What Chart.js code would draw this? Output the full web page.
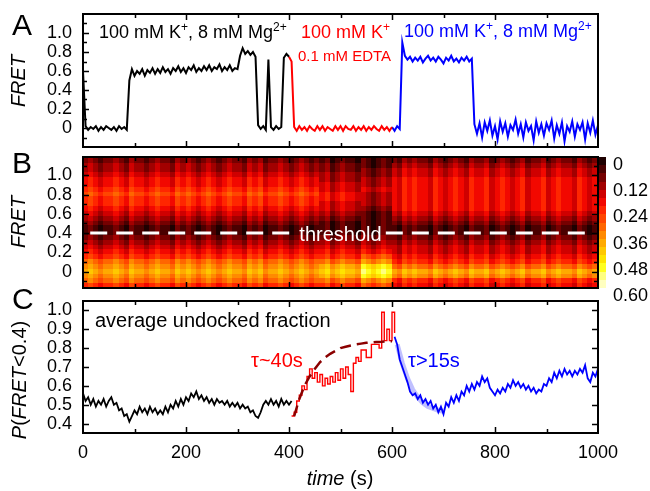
<!DOCTYPE html>
<html>
<head>
<meta charset="utf-8">
<script src="https://cdn.jsdelivr.net/npm/chart.js@4.4.1/dist/chart.umd.min.js"></script>
<style>
  html, body { margin: 0; padding: 0; background: #fff; }
  #wrap { position: relative; width: 650px; height: 491px; overflow: hidden; }
  #wrap canvas { position: absolute; left: 0; }
</style>
</head>
<body>
<div id="wrap">
  <canvas id="cA" width="650" height="160" style="top:0;width:650px;height:160px"></canvas>
  <canvas id="cB" width="650" height="160" style="top:150px;width:650px;height:160px"></canvas>
  <canvas id="cC" width="650" height="211" style="top:280px;width:650px;height:211px"></canvas>
</div>
<script>
const FONT = "'Liberation Sans', Arial, Helvetica, sans-serif";

// ─── DATA ─────────────────────────────────────────────────────────────
const step = 5; // s between samples of the traces

// A: single molecule FRET trace
const fretBlackA = [0.60, 0.02, -0.02, 0.01, -0.01, 0.02, -0.03, 0.01, -0.02, 0.02, 0.00, -0.02, 0.01, -0.03, 0.02, -0.01, 0.01, -0.02,
  0.50, 0.62, 0.55, 0.60, 0.57, 0.62, 0.55, 0.61, 0.58, 0.63,
  0.57, 0.62, 0.58, 0.64, 0.59, 0.62, 0.57, 0.63, 0.60, 0.65,
  0.59, 0.63, 0.58, 0.64, 0.61, 0.66, 0.59, 0.63, 0.60, 0.65,
  0.61, 0.66, 0.60, 0.64, 0.62, 0.67, 0.60, 0.64, 0.61, 0.66,
  0.60, 0.63, 0.62, 0.76, 0.84, 0.78, 0.81, 0.77, 0.80, 0.75,
  0.03, -0.01, 0.02, -0.02, 0.72, 0.01, -0.02, 0.02, -0.01, 0.01,
  0.74, 0.78, 0.75];                                   // 0-400 s
const fretRedA = [0.75, 0.70, 0.01, -0.03, 0.02, -0.02, 0.01, -0.03, 0.02, -0.01,
  -0.03, 0.02, -0.02, 0.02, -0.03, 0.01, -0.01, -0.03, 0.02, -0.02,
  0.02, -0.03, 0.02, -0.01, -0.02, 0.02, -0.03, 0.01, -0.02, 0.02,
  -0.03, 0.01, -0.02, 0.02, -0.01, -0.03, 0.02, -0.02, 0.01, -0.03,
  0.01];                                               // 400-600 s
const fretBlueA = [0.01, -0.03, 0.02, -0.01, 0.90, 0.76, 0.72, 0.75, 0.70, 0.74,
  0.71, 0.75, 0.69, 0.73, 0.76, 0.71, 0.74, 0.70, 0.75, 0.72,
  0.68, 0.74, 0.71, 0.76, 0.70, 0.73, 0.69, 0.74, 0.71, 0.75,
  0.70, 0.73, 0.04, -0.06, 0.05, -0.10, 0.06, -0.03, 0.08, -0.08,
  0.02, -0.12, 0.07, -0.04, 0.05, -0.09, 0.03, -0.02, 0.09, -0.06,
  0.04, -0.10, 0.06, -0.03, 0.02, -0.13, 0.07, -0.05, 0.04, -0.08,
  0.05, -0.02, 0.08, -0.11, 0.03, -0.06, 0.06, -0.14, 0.02, -0.04,
  0.07, -0.09, 0.04, -0.02, 0.06, -0.12, 0.05, -0.05, 0.08, -0.07,
  0.03];                                               // 600-1000 s

// C: average undocked fraction
const undockBlack = [0.56, 0.52, 0.54, 0.50, 0.53, 0.49, 0.52, 0.50, 0.53, 0.49,
  0.52, 0.54, 0.50, 0.51, 0.47, 0.48, 0.44, 0.45, 0.41, 0.44,
  0.47, 0.45, 0.49, 0.46, 0.48, 0.45, 0.49, 0.46, 0.48, 0.45,
  0.47, 0.45, 0.49, 0.46, 0.50, 0.48, 0.52, 0.49, 0.53, 0.50,
  0.54, 0.52, 0.56, 0.54, 0.57, 0.53, 0.55, 0.52, 0.54, 0.51,
  0.53, 0.50, 0.53, 0.51, 0.52, 0.50, 0.52, 0.49, 0.51, 0.49,
  0.51, 0.48, 0.50, 0.48, 0.49, 0.46, 0.47, 0.44, 0.43, 0.46,
  0.50, 0.52, 0.50, 0.53, 0.50, 0.52, 0.49, 0.53, 0.50, 0.52,
  0.50, 0.52];                                         // 0-405 s
const undockRed = [0.44, 0.46, 0.52, 0.55, 0.60, 0.58, 0.65, 0.69, 0.64, 0.67,
  0.62, 0.66, 0.60, 0.64, 0.61, 0.65, 0.62, 0.67, 0.63, 0.69,
  0.64, 0.70, 0.66, 0.57, 0.72, 0.75, 0.73, 0.79, 0.79, 0.75,
  0.75, 0.82, 0.82, 0.82, 0.80, 0.99, 0.84, 0.90, 0.84, 0.99,
  0.88];                                               // 405-605 s
const undockBlue = [0.86, 0.82, 0.74, 0.70, 0.66, 0.62, 0.57, 0.55, 0.56, 0.53,
  0.55, 0.51, 0.53, 0.50, 0.52, 0.48, 0.50, 0.46, 0.49, 0.45,
  0.51, 0.49, 0.54, 0.51, 0.55, 0.52, 0.57, 0.55, 0.60, 0.57,
  0.61, 0.58, 0.62, 0.60, 0.65, 0.62, 0.64, 0.59, 0.57, 0.55,
  0.58, 0.56, 0.59, 0.57, 0.61, 0.59, 0.63, 0.60, 0.62, 0.59,
  0.61, 0.58, 0.60, 0.57, 0.59, 0.56, 0.58, 0.57, 0.61, 0.60,
  0.64, 0.62, 0.67, 0.64, 0.68, 0.65, 0.69, 0.66, 0.68, 0.65,
  0.68, 0.66, 0.69, 0.67, 0.71, 0.64, 0.62, 0.67, 0.65, 0.69]; // 605-1000 s
const fitRed = [0.44, 0.53, 0.60, 0.65, 0.69, 0.725, 0.75, 0.77, 0.785, 0.80,
  0.807, 0.814, 0.82, 0.824, 0.828, 0.83, 0.833, 0.834, 0.836, 0.837]; // 410-600 s, every 10 s
const fitBlue = [0.82, 0.72, 0.64, 0.58, 0.54, 0.51, 0.49, 0.48, 0.47, 0.465]; // 610-700 s, every 10 s

// B: FRET histogram vs time, one hex digit per 10 s column (0 = 0 .. f = 0.60)
const heatColWidth = 10;
const heatBin = 0.05;
const heatFret = [1.2, 1.15, 1.1, 1.05, 1.0, 0.95, 0.9, 0.85, 0.8, 0.75, 0.7, 0.65, 0.6, 0.55,
  0.5, 0.45, 0.4, 0.35, 0.3, 0.25, 0.2, 0.15, 0.1, 0.05, 0, -0.05, -0.1, -0.15];
const heatRows = [
  '12101121021 10121102121 01210121102 12011210121 01  12012110 210121  2132322132 1232132231 2321231223 1232213212',
  '23212232132 21232213232 12321232213 23122321232 12  12012110 210121  2132322132 1232132231 2321231223 1232213212',
  '34323343243 32343324343 23432343324 34233432343 23  23123221 210121  3243433243 2343243342 3432342334 2343324323',
  '34323343243 32343324343 23432343324 34233432343 23  23123221 321232  4354544354 3454354453 4543453445 3454435434',
  '45434454354 43454435454 34543454435 45344543454 34  34234332 321232  4354544354 3454354453 4543453445 3454435434',
  '56545565465 54565546565 45654565546 56455654565 45  34234332 432343  5465655465 4565465564 5654564556 4565546545',
  '56545565465 54565546565 45654565546 56455654565 45  45345443 432343  5465655465 4565465564 5654564556 4565546545',
  '67656676576 65676657676 56765676657 67566765676 56  45345443 543454  5465655465 4565465564 5654564556 4565546545',
  '78767787687 76787768787 67876787768 78677876787 67  56456554 432343  5465655465 4565465564 5654564556 4565546545',
  '67656676576 65676657676 56765676657 67566765676 56  56456554 432343  5465655465 4565465564 5654564556 4565546545',
  '67656676576 65676657676 56765676657 67566765676 56  45345443 432343  5465655465 4565465564 5654564556 4565546545',
  '56545565465 54565546565 45654565546 56455654565 45  45345443 321232  5465655465 4565465564 5654564556 4565546545',
  '45434454354 43454435454 34543454435 45344543454 34  34234332 210121  4354544354 3454354453 4543453445 3454435434',
  '34323343243 32343324343 23432343324 34233432343 23  23123221 210121  3243433243 2343243342 3432342334 2343324323',
  '23212232132 21232213232 12321232213 23122321232 12  12012110 210121  2132322132 1232132231 2321231223 1232213212',
  '12101121021 10121102121 01210121102 12011210121 01  12012110 210121  1021211021 0121021120 1210120112 0121102101',
  '12101121021 10121102121 01210121102 12011210121 01  12012110 210121  1021211021 0121021120 1210120112 0121102101',
  '23212232132 21232213232 12321232213 23122321232 12  23123221 321232  2132322132 1232132231 2321231223 1232213212',
  '34323343243 32343324343 23432343324 34233432343 23  34234332 432343  3243433243 2343243342 3432342334 2343324323',
  '45434454354 43454435454 34543454435 45344543454 34  45345443 543454  4354544354 3454354453 4543453445 3454435434',
  '56545565465 54565546565 45654565546 56455654565 45  56456554 654565  4354544354 3454354453 4543453445 3454435434',
  '67656676576 65676657676 56765676657 67566765676 56  67567665 876787  5465655465 4565465564 5654564556 4565546545',
  '89878898798 87898879898 78987898879 89788987898 78  89789887 a989a9  6576766576 5676576675 6765675667 5676657656',
  '9a9899a98a9 989a998a9a9 89a989a998a 9a899a989a9 89  ab9abaa9 dcbcdc  8798988798 7898798897 8987897889 7898879878',
  'aba9aaba9ba a9abaa9baba 9aba9abaa9b ab9aaba9aba 9a  bcabcbba edcded  a9babaa9ba 9aba9baab9 aba9ab9aab 9abaa9ba9a',
  '9a9899a98a9 989a998a9a9 89a989a998a 9a899a989a9 89  ab9abaa9 dcbcdc  98a9a998a9 89a98a99a8 9a989a899a 89a998a989',
  '89878898798 87898879898 78987898879 89788987898 78  89789887 a989a9  6576766576 5676576675 6765675667 5676657656',
  '67656676576 65676657676 56765676657 67566765676 56  67567665 876787  5465655465 4565465564 5654564556 4565546545',
];
const heatPalette = ['#1e0000', '#4a0000', '#760000', '#a20000', '#cf0000', '#f20800', '#ff2600', '#ff4600',
  '#ff6600', '#ff8a00', '#ffaa00', '#ffc800', '#ffe400', '#ffff20', '#ffff80', '#ffffc0'];
const threshold = 0.4;
const thresholdLeft = [14, 412];
const thresholdRight = [588, 985];

const fretTicks = [0, 0.2, 0.4, 0.6, 0.8, 1.0];
const undockTicks = [0.4, 0.5, 0.6, 0.7, 0.8, 0.9, 1.0];
const timeTicks = [0, 200, 400, 600, 800, 1000];
const colorTicks = [0, 0.12, 0.24, 0.36, 0.48, 0.60];

// ─── HELPERS ──────────────────────────────────────────────────────────
const pts = (start, dt, vals) => vals.map((y, i) => ({ x: start + i * dt, y }));

function line(data, color, width, extra = {}) {
  return Object.assign({ data, borderColor: color, borderWidth: width, pointRadius: 0, fill: false, tension: 0 }, extra);
}

function drawRich(ctx, x, y, parts, color, align) {
  const fontOf = p => `${p.i ? 'italic ' : ''}${p.s}px ${FONT}`;
  let w = 0;
  parts.forEach(p => { ctx.font = fontOf(p); w += ctx.measureText(p.t).width; });
  let cx = align === 'center' ? x - w / 2 : x;
  ctx.fillStyle = color;
  ctx.textAlign = 'left';
  ctx.textBaseline = 'alphabetic';
  parts.forEach(p => {
    ctx.font = fontOf(p);
    ctx.fillText(p.t, cx, y - (p.r || 0));
    cx += ctx.measureText(p.t).width;
  });
}

function drawVertical(ctx, x, y, parts) {
  ctx.save();
  ctx.translate(x, y);
  ctx.rotate(-Math.PI / 2);
  drawRich(ctx, 0, 0, parts, '#000', 'center');
  ctx.restore();
}

// frame + inward ticks on every side
function framePlugin(spec) {
  return {
    id: 'frame',
    afterDatasetsDraw(chart) {
      const { ctx, chartArea: a, scales } = chart;
      ctx.save();
      ctx.strokeStyle = '#000';
      ctx.lineWidth = 1.5;
      ctx.beginPath();
      spec.x.forEach(([v, len]) => {
        const p = Math.round(scales.x.getPixelForValue(v)) + 0.5;
        ctx.moveTo(p, a.bottom); ctx.lineTo(p, a.bottom - len);
        ctx.moveTo(p, a.top); ctx.lineTo(p, a.top + len);
      });
      spec.y.forEach(([v, len]) => {
        const p = Math.round(scales.y.getPixelForValue(v)) + 0.5;
        ctx.moveTo(a.left, p); ctx.lineTo(a.left + len, p);
        if (spec.right) { ctx.moveTo(a.right, p); ctx.lineTo(a.right - len, p); }
      });
      ctx.stroke();
      ctx.lineWidth = 2;
      ctx.strokeRect(a.left, a.top, a.right - a.left, a.bottom - a.top);
      ctx.restore();
    }
  };
}

const xMarks = [];
for (let k = 1; k < 10; k++) xMarks.push([k * 100, k % 2 === 0 ? 6 : 4]);
const fretMarks = [];
for (let k = -1; k <= 11; k++) fretMarks.push([k / 10, k % 2 === 0 ? 6 : 4]);
const undockMarks = [];
for (let k = 4; k <= 10; k++) undockMarks.push([k / 10, 6]);

const noPad = s => { s.paddingTop = 0; s.paddingBottom = 0; s.paddingLeft = 0; s.paddingRight = 0; };
const hiddenX = () => ({
  type: 'linear', min: 0, max: 1000,
  ticks: { display: false }, grid: { display: false, drawTicks: false }, border: { display: false },
  afterFit: s => { s.height = 0; noPad(s); }
});
function yAxis(min, max, ticks, fmt) {
  return {
    min, max,
    afterBuildTicks: s => { s.ticks = ticks.map(v => ({ value: v })); },
    ticks: { padding: 11, autoSkip: false, callback: fmt },
    grid: { display: false, drawTicks: false }, border: { display: false },
    afterFit: s => { s.width = 83; noPad(s); }
  };
}
const fmt1 = v => (v === 0 ? '0' : v.toFixed(1));

Chart.defaults.font.family = FONT;
Chart.defaults.font.size = 18;
Chart.defaults.color = '#000';
const base = () => ({
  responsive: false, animation: false, events: [],
  plugins: { legend: { display: false }, tooltip: { enabled: false } }
});

const K = [{ t: '100 mM K', s: 18 }, { t: '+', s: 12, r: 7 }];
const KMg = K.concat([{ t: ', 8 mM Mg', s: 18 }, { t: '2+', s: 12, r: 7 }]);

// ─── PANEL A ──────────────────────────────────────────────────────────
new Chart(document.getElementById('cA'), {
  type: 'line',
  data: {
    datasets: [
      line(pts(0, step, fretBlackA), '#000', 2),
      line(pts(400, step, fretRedA), '#ff0000', 2),
      line(pts(600, step, fretBlueA), '#0000ff', 2),
    ]
  },
  options: Object.assign(base(), {
    layout: { padding: { left: 0, right: 52, top: 14, bottom: 13 } },
    scales: { x: hiddenX(), y: yAxis(-0.2, 1.2, fretTicks, fmt1) }
  }),
  plugins: [framePlugin({ x: xMarks, y: fretMarks, right: false }), {
    id: 'notesA',
    afterDraw(chart) {
      const ctx = chart.ctx;
      drawRich(ctx, 12, 35, [{ t: 'A', s: 30 }], '#000');
      drawVertical(ctx, 25, 81, [{ t: 'FRET', s: 20, i: true }]);
      drawRich(ctx, 99, 38, KMg, '#000');
      drawRich(ctx, 301, 38, K, '#ff0000');
      drawRich(ctx, 298, 61, [{ t: '0.1 mM EDTA', s: 15 }], '#ff0000');
      drawRich(ctx, 404, 37, KMg, '#0000ff');
    }
  }]
});

// ─── PANEL B ──────────────────────────────────────────────────────────
const heatPlugin = {
  id: 'heat',
  beforeDatasetsDraw(chart) {
    const { ctx, chartArea: a, scales: { x, y, cb } } = chart;
    ctx.save();
    ctx.beginPath();
    ctx.rect(a.left, a.top, a.right - a.left, a.bottom - a.top);
    ctx.clip();
    heatRows.forEach((row, r) => {
      const cells = row.replace(/\s/g, '');
      const y0 = Math.floor(y.getPixelForValue(heatFret[r] + heatBin / 2));
      const y1 = Math.ceil(y.getPixelForValue(heatFret[r] - heatBin / 2));
      for (let c = 0; c < cells.length; c++) {
        const x0 = Math.floor(x.getPixelForValue(c * heatColWidth));
        const x1 = Math.ceil(x.getPixelForValue((c + 1) * heatColWidth));
        ctx.fillStyle = heatPalette[parseInt(cells[c], 16)];
        ctx.fillRect(x0, y0, x1 - x0, y1 - y0);
      }
    });
    ctx.restore();
    // colour bar
    const n = heatPalette.length;
    heatPalette.forEach((col, i) => {
      const ya = Math.round(cb.getPixelForValue(i * 0.6 / n));
      const yb = Math.round(cb.getPixelForValue((i + 1) * 0.6 / n));
      ctx.fillStyle = col;
      ctx.fillRect(a.right, ya, 8, yb - ya);
    });
  },
  afterDraw(chart) {
    const ctx = chart.ctx;
    drawRich(ctx, 12, 23, [{ t: 'B', s: 30 }], '#000');
    drawVertical(ctx, 25, 72, [{ t: 'FRET', s: 20, i: true }]);
    drawRich(ctx, chart.scales.x.getPixelForValue(500), 91, [{ t: 'threshold', s: 20 }], '#fff', 'center');
  }
};

new Chart(document.getElementById('cB'), {
  type: 'line',
  data: {
    datasets: [
      line(thresholdLeft.map(t => ({ x: t, y: threshold })), '#fff', 3, { borderDash: [17, 9] }),
      line(thresholdRight.map(t => ({ x: t, y: threshold })), '#fff', 3, { borderDash: [17, 9] }),
    ]
  },
  options: Object.assign(base(), {
    layout: { padding: { left: 0, right: 0, top: 7, bottom: 22 } },
    scales: {
      x: hiddenX(),
      y: yAxis(-0.17, 1.19, fretTicks, fmt1),
      cb: {
        axis: 'y', position: 'right', reverse: true, min: 0, max: 0.6,
        afterBuildTicks: s => { s.ticks = colorTicks.map(v => ({ value: v })); },
        ticks: { padding: 15, labelOffset: 8, autoSkip: false, callback: v => (v === 0 ? '0' : v.toFixed(2)) },
        grid: { display: false, drawTicks: false }, border: { display: false },
        afterFit: s => { s.width = 52; noPad(s); }
      }
    }
  }),
  plugins: [heatPlugin, framePlugin({ x: xMarks, y: fretMarks, right: true })]
});

// ─── PANEL C ──────────────────────────────────────────────────────────
new Chart(document.getElementById('cC'), {
  type: 'line',
  data: {
    datasets: [
      line(pts(410, 10, fitRed), '#8b0000', 2.5, { borderDash: [11, 6], order: 0 }),
      line(pts(605, step, undockBlue), '#0000ff', 1.8, { order: 1 }),
      line(pts(405, step, undockRed), '#ff0000', 1.4, { stepped: true, order: 2 }),
      line(pts(0, step, undockBlack), '#000', 1.8, { order: 3 }),
      line(pts(610, 10, fitBlue), 'rgba(150,150,255,0.6)', 5, { order: 4 }),
    ]
  },
  options: Object.assign(base(), {
    layout: { padding: { left: 0, right: 52, top: 21, bottom: 0 } },
    scales: {
      x: {
        type: 'linear', min: 0, max: 1000,
        afterBuildTicks: s => { s.ticks = timeTicks.map(v => ({ value: v })); },
        ticks: { padding: 9, maxRotation: 0, autoSkip: false, callback: v => String(v) },
        grid: { display: false, drawTicks: false }, border: { display: false },
        afterFit: s => { s.height = 58; noPad(s); }
      },
      y: yAxis(0.35, 1.05, undockTicks, v => v.toFixed(1))
    }
  }),
  plugins: [framePlugin({ x: xMarks, y: undockMarks, right: true }), {
    id: 'notesC',
    afterDraw(chart) {
      const ctx = chart.ctx;
      drawRich(ctx, 12, 29, [{ t: 'C', s: 30 }], '#000');
      drawVertical(ctx, 26, 100, [{ t: 'P', s: 20, i: true }, { t: '(', s: 20 }, { t: 'FRET', s: 20, i: true }, { t: '<0.4)', s: 20 }]);
      drawRich(ctx, 95, 47, [{ t: 'average undocked fraction', s: 20 }], '#000');
      drawRich(ctx, 251, 87, [{ t: 'τ~40s', s: 20 }], '#ff0000');
      drawRich(ctx, 408, 87, [{ t: 'τ>15s', s: 20 }], '#0000ff');
      drawRich(ctx, 340, 205, [{ t: 'time', s: 20, i: true }, { t: ' (s)', s: 20 }], '#000', 'center');
    }
  }]
});
</script>
</body>
</html>
